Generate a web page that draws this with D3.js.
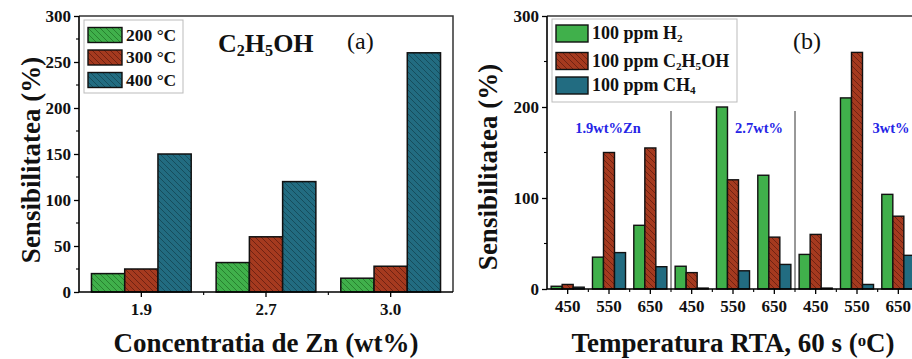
<!DOCTYPE html>
<html>
<head>
<meta charset="utf-8">
<script src="https://cdn.jsdelivr.net/npm/d3@7"></script>
<style>
  body { margin: 0; background: #fff; }
  svg { display: block; }
</style>
</head>
<body>
<div id="chart"></div>
<script>
// Panel (a): sensitivity to C2H5OH vs Zn concentration
const leftCategories = ["1.9", "2.7", "3.0"];
const leftSeries = ["200 °C", "300 °C", "400 °C"];
const left200 = [20, 32, 15];
const left300 = [25, 60, 28];
const left400 = [150, 120, 260];
const leftYTicks = [0, 50, 100, 150, 200, 250, 300];

// Panel (b): sensitivity vs RTA temperature, three Zn loadings
const rightCategories = ["450", "550", "650", "450", "550", "650", "450", "550", "650"];
const rightSeries = ["100 ppm H2", "100 ppm C2H5OH", "100 ppm CH4"];
const rightH2 = [3, 35, 70, 25, 200, 125, 38, 210, 104];
const rightEtOH = [5, 150, 155, 18, 120, 57, 60, 260, 80];
const rightCH4 = [2, 40, 24.5, 1, 20, 27, 1, 5, 37];
const rightGroups = ["1.9wt%Zn", "2.7wt%", "3wt%"];
const rightYTicks = [0, 100, 200, 300];

const width = 912, height = 359;
const fontFamily = "'Liberation Serif', 'Times New Roman', serif";

const colors = {
    green: { fill: "#40b04b", hatch: "#28812f" },
    red: { fill: "#a53a1f", hatch: "#702212" },
    teal: { fill: "#226c81", hatch: "#164d5c" }
};

const svg = d3.select("#chart").append("svg")
    .attr("width", width)
    .attr("height", height)
    .style("font-family", fontFamily);

svg.append("rect").attr("width", width).attr("height", height).attr("fill", "#fff");

// hatch patterns ("\\\" direction)
const defs = svg.append("defs");
Object.entries(colors).forEach(([name, c]) => {
    const p = defs.append("pattern")
        .attr("id", "hatch-" + name)
        .attr("patternUnits", "userSpaceOnUse")
        .attr("width", 6).attr("height", 6);
    p.append("rect").attr("width", 6).attr("height", 6).attr("fill", c.fill);
    p.append("path")
        .attr("d", "M-1,-1 L7,7 M-2,4 L2,8 M4,-2 L8,2")
        .attr("stroke", c.hatch)
        .attr("stroke-width", 1);
});

// text with sub/superscripts: parts = [[text, "sub"|"sup"|null], ...]
function richText(sel, parts, size) {
    parts.forEach(([t, kind]) => {
        const ts = sel.append("tspan").text(t);
        if (kind === "sub") ts.attr("baseline-shift", "-28%").attr("font-size", size * 0.62);
        if (kind === "sup") ts.attr("baseline-shift", "38%").attr("font-size", size * 0.62);
    });
    return sel;
}

function yAxis(g, y, x0, ticks, minorStep) {
    const ax = g.append("g")
        .attr("transform", `translate(${x0},0)`)
        .call(d3.axisLeft(y).tickValues(ticks).tickSize(5).tickPadding(3).tickFormat(d3.format("d")));
    ax.select(".domain").remove();
    ax.selectAll(".tick line").attr("stroke", "#000").attr("stroke-width", 1.3);
    ax.selectAll(".tick text")
        .attr("font-family", fontFamily)
        .attr("font-weight", "bold")
        .attr("font-size", 17)
        .attr("fill", "#111");
    const minor = d3.range(ticks[0] + minorStep, ticks[ticks.length - 1], minorStep)
        .filter(v => !ticks.includes(v));
    g.append("g").selectAll("line").data(minor).enter().append("line")
        .attr("x1", x0 - 3).attr("x2", x0)
        .attr("y1", d => y(d)).attr("y2", d => y(d))
        .attr("stroke", "#000").attr("stroke-width", 1.1);
}

function xAxis(g, x, y0, labels) {
    const ax = g.append("g")
        .attr("transform", `translate(0,${y0})`)
        .call(d3.axisBottom(x).tickSize(5).tickPadding(6).tickFormat((d, i) => labels[i]));
    ax.select(".domain").remove();
    ax.selectAll(".tick line").attr("stroke", "#000").attr("stroke-width", 1.3);
    ax.selectAll(".tick text")
        .attr("font-family", fontFamily)
        .attr("font-weight", "bold")
        .attr("font-size", 17)
        .attr("fill", "#111");
    // minor ticks at the category boundaries
    const dom = x.domain();
    const gap = (x.step() - x.bandwidth()) / 2;
    g.append("g").selectAll("line").data(dom.slice(0, -1)).enter().append("line")
        .attr("x1", d => x(d) + x.bandwidth() + gap)
        .attr("x2", d => x(d) + x.bandwidth() + gap)
        .attr("y1", y0).attr("y2", y0 + 3)
        .attr("stroke", "#000").attr("stroke-width", 1.1);
}

function legend(g, x0, y0, w, h, rows, rowY, sw, fills, size) {
    g.append("rect")
        .attr("x", x0).attr("y", y0).attr("width", w).attr("height", h)
        .attr("fill", "#fff").attr("stroke", "#bbb").attr("stroke-width", 1);
    rows.forEach((parts, i) => {
        g.append("rect")
            .attr("x", x0 + 4).attr("y", rowY[i] - sw.h / 2)
            .attr("width", sw.w).attr("height", sw.h)
            .attr("fill", fills[i]).attr("stroke", "#111").attr("stroke-width", 1.4);
        richText(g.append("text")
            .attr("x", x0 + sw.w + 8).attr("y", rowY[i] + size * 0.33)
            .attr("font-weight", "bold").attr("font-size", size).attr("fill", "#111"), parts, size);
    });
}

// ---------------- Panel (a) ----------------
const gA = svg.append("g");
const xA = d3.scaleBand().domain(leftCategories).range([79, 453]).paddingInner(0.2).paddingOuter(0.1);
const xAin = d3.scaleBand().domain(leftSeries).range([0, xA.bandwidth()]);
const yA = d3.scaleLinear().domain([0, 300]).range([292, 16]);
const leftValues = [left200, left300, left400];
const leftFills = ["url(#hatch-green)", "url(#hatch-red)", "url(#hatch-teal)"];

leftSeries.forEach((s, si) => {
    gA.append("g").selectAll("rect").data(leftValues[si]).enter().append("rect")
        .attr("x", (d, i) => xA(leftCategories[i]) + xAin(s))
        .attr("y", d => yA(d))
        .attr("width", xAin.bandwidth())
        .attr("height", d => yA(0) - yA(d))
        .attr("fill", leftFills[si])
        .attr("stroke", "#111")
        .attr("stroke-width", 1.5);
});

// frame
gA.append("path")
    .attr("d", `M79,${yA(300)} H453 V${yA(0)}`)
    .attr("fill", "none").attr("stroke", "#333").attr("stroke-width", 1.5);
gA.append("path")
    .attr("d", `M79,${yA(300)} V${yA(0)} H453`)
    .attr("fill", "none").attr("stroke", "#000").attr("stroke-width", 1.6);

yAxis(gA, yA, 79, leftYTicks, 25);
xAxis(gA, xA, yA(0), leftCategories);

legend(gA, 84, 20, 99, 73,
    [[["200 °C", null]], [["300 °C", null]], [["400 °C", null]]],
    [35, 57.5, 80], { w: 34, h: 15 }, leftFills, 17.5);

richText(gA.append("text").attr("x", 218).attr("y", 52)
    .attr("font-weight", "bold").attr("font-size", 26).attr("fill", "#111"),
    [["C", null], ["2", "sub"], ["H", null], ["5", "sub"], ["OH", null]], 26);
gA.append("text").attr("x", 347).attr("y", 49)
    .attr("font-size", 24).attr("fill", "#111").text("(a)");

gA.append("text")
    .attr("transform", "translate(40,160) rotate(-90)")
    .attr("text-anchor", "middle")
    .attr("font-weight", "bold").attr("font-size", 27).attr("fill", "#111")
    .text("Sensibilitatea (%)");
gA.append("text")
    .attr("x", 266).attr("y", 352)
    .attr("text-anchor", "middle")
    .attr("font-weight", "bold").attr("font-size", 27).attr("fill", "#111")
    .text("Concentratia de Zn (wt%)");

// ---------------- Panel (b) ----------------
const gB = svg.append("g");
const idx = d3.range(rightCategories.length);
const xB = d3.scaleBand().domain(idx).range([547, 919]).paddingInner(0.2).paddingOuter(0.1);
const xBin = d3.scaleBand().domain(rightSeries).range([0, xB.bandwidth()]);
const yB = d3.scaleLinear().domain([0, 300]).range([289, 16]);
const rightValues = [rightH2, rightEtOH, rightCH4];
const rightFills = [colors.green.fill, "url(#hatch-red)", colors.teal.fill];

rightSeries.forEach((s, si) => {
    gB.append("g").selectAll("rect").data(rightValues[si]).enter().append("rect")
        .attr("x", (d, i) => xB(i) + xBin(s))
        .attr("y", d => yB(d))
        .attr("width", xBin.bandwidth())
        .attr("height", d => yB(0) - yB(d))
        .attr("fill", rightFills[si])
        .attr("stroke", "#111")
        .attr("stroke-width", 1.4);
});

// group separators
const sepX = [3, 6].map(i => xB(i) - (xB.step() - xB.bandwidth()) / 2);
gB.append("g").selectAll("line").data(sepX).enter().append("line")
    .attr("x1", d => d).attr("x2", d => d)
    .attr("y1", 111).attr("y2", yB(0))
    .attr("stroke", "#333").attr("stroke-width", 1);

gB.append("path")
    .attr("d", `M547,${yB(300)} H919`)
    .attr("fill", "none").attr("stroke", "#333").attr("stroke-width", 1.5);
gB.append("path")
    .attr("d", `M547,${yB(300)} V${yB(0)} H919`)
    .attr("fill", "none").attr("stroke", "#000").attr("stroke-width", 1.6);

yAxis(gB, yB, 547, rightYTicks, 50);
xAxis(gB, xB, yB(0), rightCategories);

// group labels
const groupLabelPos = [{ band: 1, dx: -1 }, { band: 4, dx: 26 }, { band: 7, dx: 34 }];
rightGroups.forEach((t, i) => {
    const p = groupLabelPos[i];
    gB.append("text")
        .attr("x", xB(p.band) + xB.bandwidth() / 2 + p.dx)
        .attr("y", 133)
        .attr("text-anchor", "middle")
        .attr("font-weight", "bold").attr("font-size", 14.5).attr("fill", "#2525e6")
        .text(t);
});

legend(gB, 552, 19, 185, 83,
    [[["100 ppm H", null], ["2", "sub"]],
     [["100 ppm C", null], ["2", "sub"], ["H", null], ["5", "sub"], ["OH", null]],
     [["100 ppm CH", null], ["4", "sub"]]],
    [33.5, 61, 85.5], { w: 32, h: 17 }, rightFills, 18);

gB.append("text").attr("x", 793).attr("y", 49)
    .attr("font-size", 24).attr("fill", "#111").text("(b)");

gB.append("text")
    .attr("transform", "translate(497,167) rotate(-90)")
    .attr("text-anchor", "middle")
    .attr("font-weight", "bold").attr("font-size", 27).attr("fill", "#111")
    .text("Sensibilitatea (%)");
richText(gB.append("text")
    .attr("x", 733).attr("y", 352)
    .attr("text-anchor", "middle")
    .attr("font-weight", "bold").attr("font-size", 27).attr("fill", "#111"),
    [["Temperatura RTA, 60 s (", null], ["o", "sup"], ["C)", null]], 27);
</script>
</body>
</html>
